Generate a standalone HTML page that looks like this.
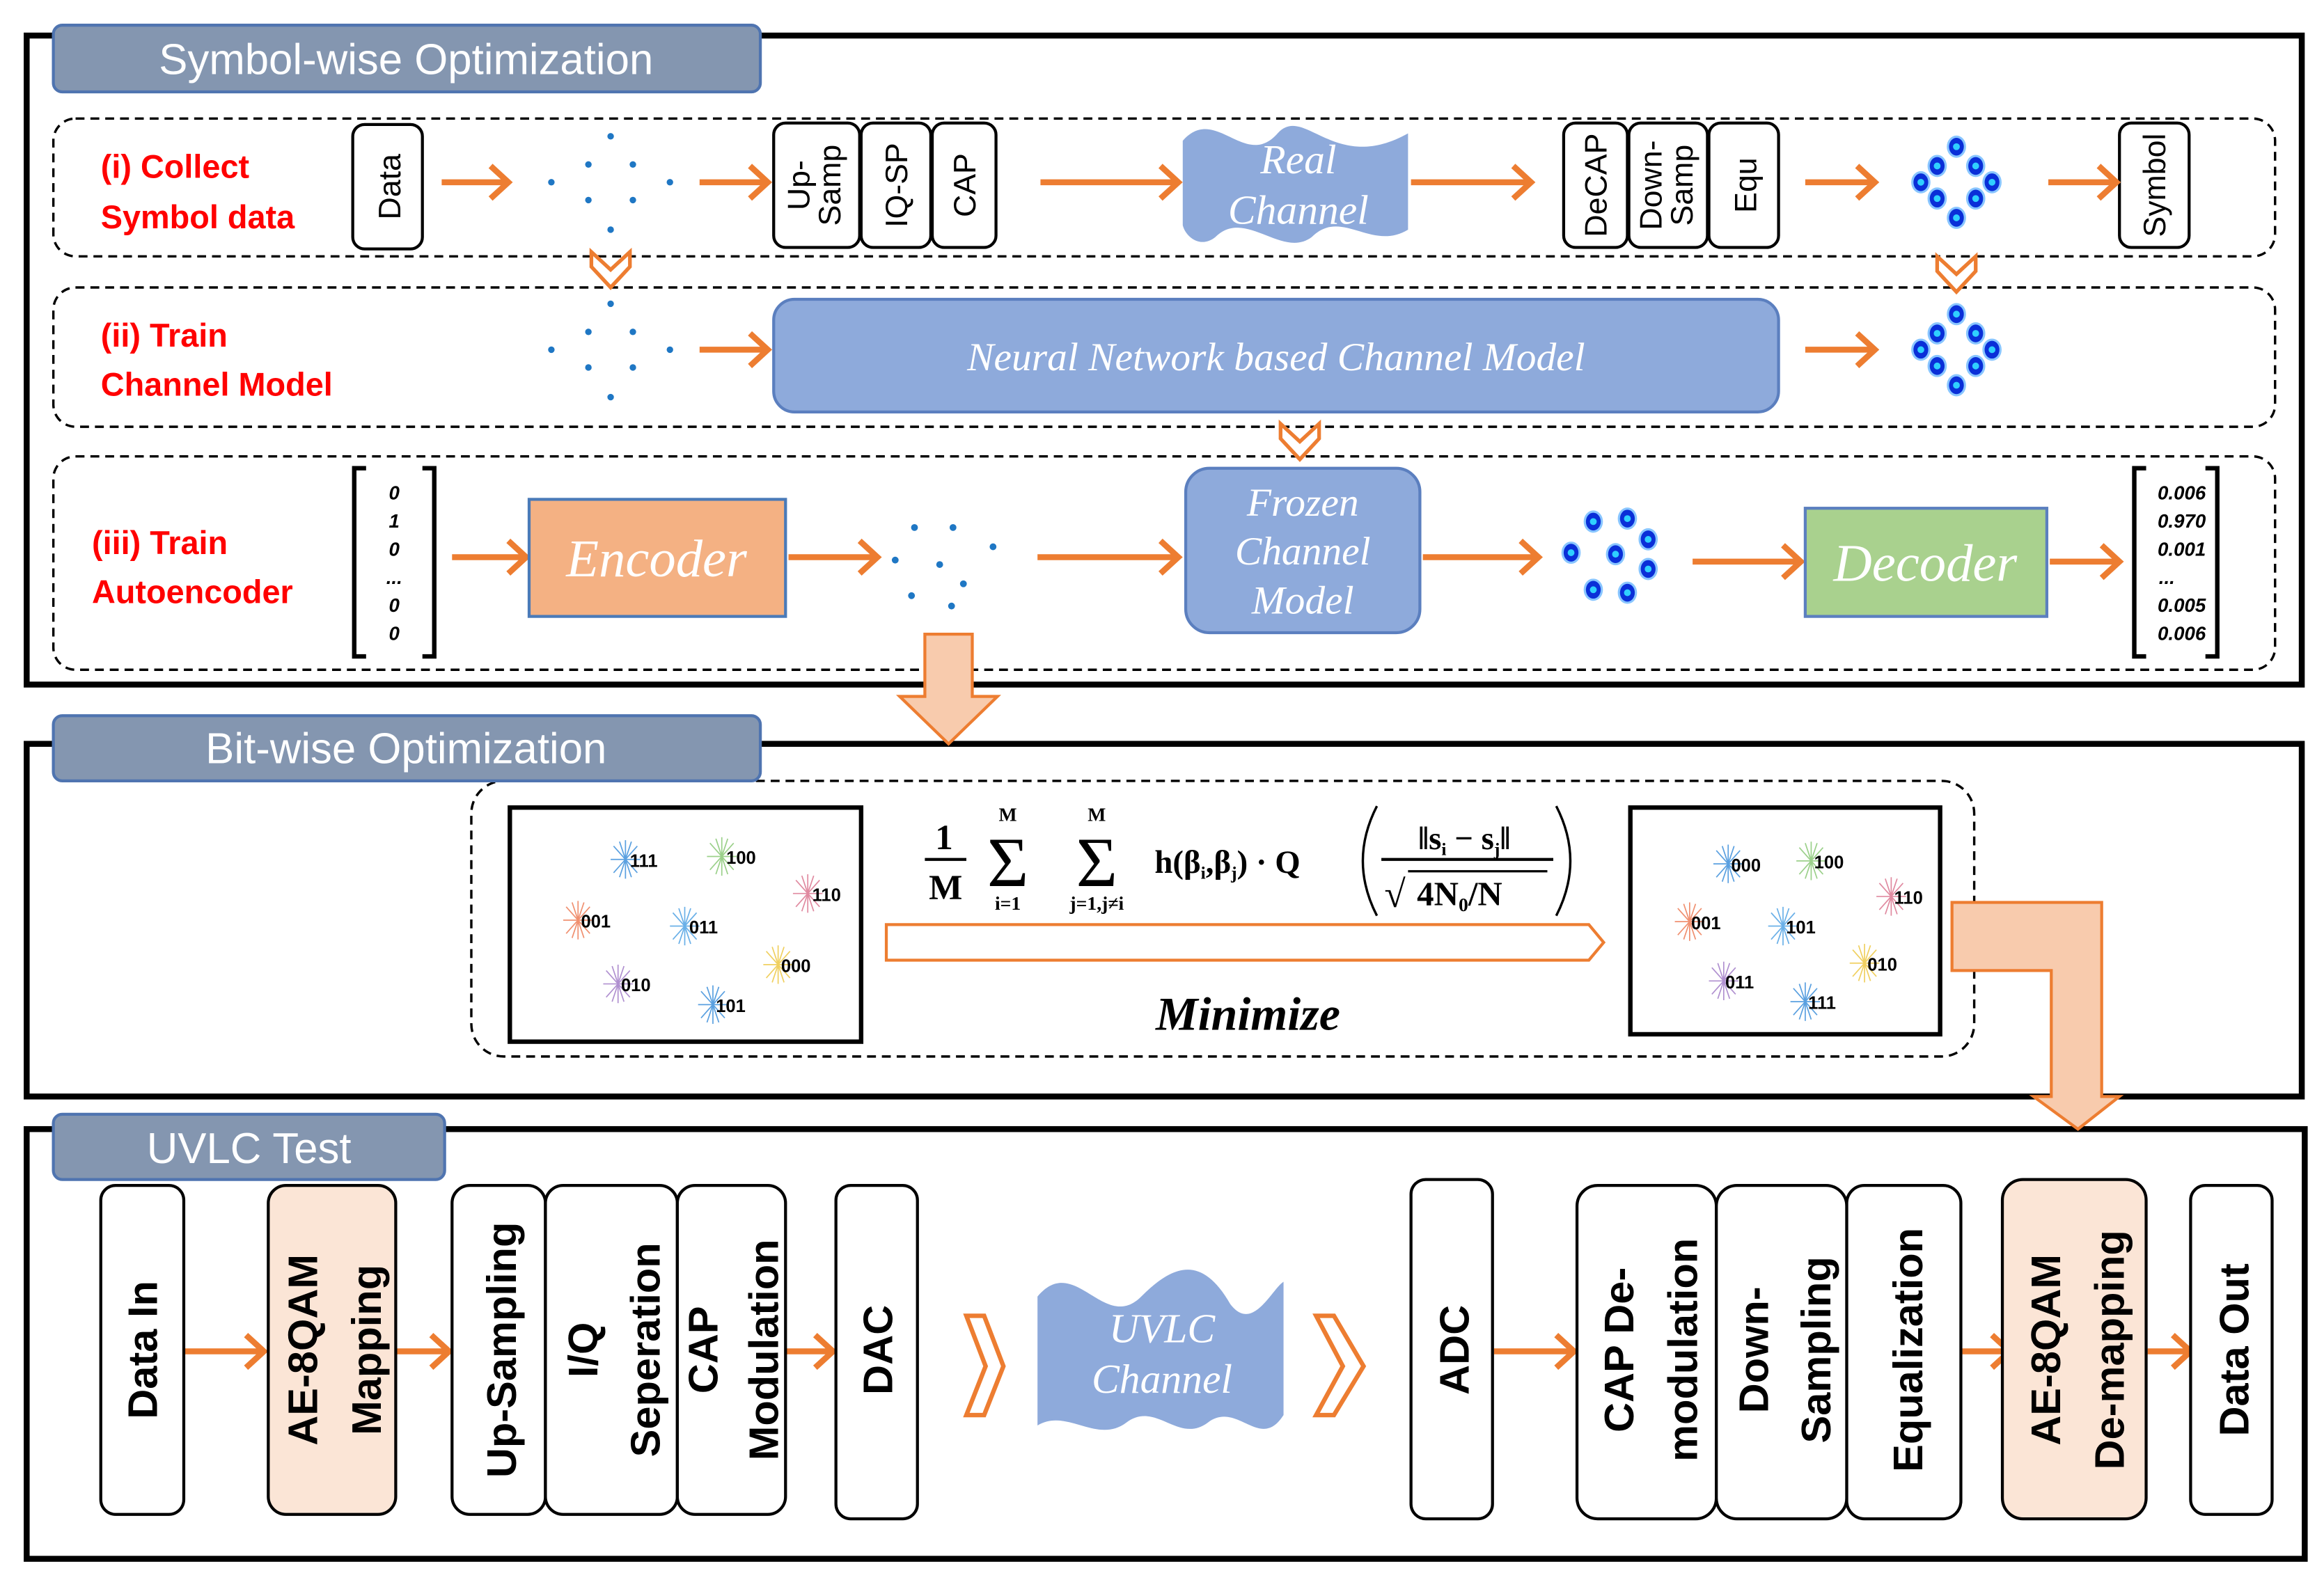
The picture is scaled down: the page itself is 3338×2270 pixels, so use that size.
<!DOCTYPE html>
<html><head><meta charset="utf-8"><style>
html,body{margin:0;padding:0;background:#fff;}
svg{display:block;}
</style></head><body>
<svg width="3338" height="2270" viewBox="0 0 1568 1066.3" preserveAspectRatio="none" xmlns="http://www.w3.org/2000/svg">
<defs>
<g id="star" stroke-width="0.8">
<line x1="-10" y1="0" x2="10" y2="0"/><line x1="0" y1="-13" x2="0" y2="13"/>
<line x1="-8" y1="-9" x2="8" y2="9"/><line x1="-8" y1="9" x2="8" y2="-9"/>
<line x1="-4" y1="-12" x2="4" y2="12"/><line x1="-4" y1="12" x2="4" y2="-12"/>
</g>
<g id="bdot"><ellipse rx="6.5" ry="7.5" fill="#3aa0ff" opacity="0.6"/><ellipse rx="5" ry="6" fill="#0a2fd8"/><circle r="2.3" fill="#2fd0ff"/></g>
<g id="sdot" fill="#1f77c4"><circle cx="0" cy="-31" r="2.2"/><circle cx="-15" cy="-12" r="2.2"/><circle cx="15" cy="-12" r="2.2"/><circle cx="-40" cy="0" r="2.2"/><circle cx="40" cy="0" r="2.2"/><circle cx="-15" cy="12" r="2.2"/><circle cx="15" cy="12" r="2.2"/><circle cx="0" cy="32" r="2.2"/></g>
<g id="qdot"><use href="#bdot" x="0" y="-24"/><use href="#bdot" x="-13" y="-11"/><use href="#bdot" x="13" y="-11"/><use href="#bdot" x="-24" y="0"/><use href="#bdot" x="24" y="0"/><use href="#bdot" x="-13" y="11"/><use href="#bdot" x="13" y="11"/><use href="#bdot" x="0" y="24"/></g>
<polygon id="chev" points="-13,-12 0,0 13,-12 13,-2 0,12 -13,-2" fill="#fff" stroke="#ed7d31" stroke-width="2.5"/>
</defs>

<g fill="none" stroke="#000">
<rect x="18" y="24" width="1535" height="438" stroke-width="4"/>
<rect x="18" y="502" width="1535" height="238" stroke-width="4"/>
<rect x="18" y="762" width="1537" height="290" stroke-width="4"/>
</g>
<g fill="none" stroke="#000" stroke-width="1.6" stroke-dasharray="6,4">
<rect x="36" y="80" width="1499" height="93" rx="15"/>
<rect x="36" y="194" width="1499" height="94" rx="15"/>
<rect x="36" y="308" width="1499" height="144" rx="15"/>
<rect x="318" y="527" width="1014" height="186" rx="22"/>
</g>

<g fill="#8496b0" stroke="#4f74b0" stroke-width="2">
<rect x="36" y="17" width="477" height="45" rx="6"/>
<rect x="36" y="483" width="477" height="44" rx="6"/>
<rect x="36" y="752" width="264" height="44" rx="6"/>
</g>
<g fill="#fff" font-family="Liberation Sans, sans-serif" font-size="29" text-anchor="middle">
<text x="274" y="50">Symbol-wise Optimization</text>
<text x="274" y="515">Bit-wise Optimization</text>
<text x="168" y="785">UVLC Test</text>
</g>

<g fill="#ff0000" font-family="Liberation Sans, sans-serif" font-weight="bold" font-size="22">
<text x="68" y="120">(i) Collect</text><text x="68" y="154">Symbol data</text>
<text x="68" y="234">(ii) Train</text><text x="68" y="267">Channel Model</text>
<text x="62" y="374">(iii) Train</text><text x="62" y="407">Autoencoder</text>
</g>

<g fill="#fff" stroke="#000" stroke-width="2">
<rect x="238" y="84" width="47" height="84" rx="8"/>
<rect x="522" y="83" width="58" height="84" rx="8"/>
<rect x="581" y="83" width="47" height="84" rx="8"/>
<rect x="629" y="83" width="43" height="84" rx="8"/>
<rect x="1055" y="83" width="43" height="84" rx="8"/>
<rect x="1099" y="83" width="53" height="84" rx="8"/>
<rect x="1153" y="83" width="47" height="84" rx="8"/>
<rect x="1430" y="83" width="47" height="84" rx="8"/>
</g>
<g fill="#000" font-family="Liberation Sans, sans-serif" font-size="21" text-anchor="middle">
<text transform="translate(270,126) rotate(-90)">Data</text>
<text transform="translate(546,125) rotate(-90)">Up-</text>
<text transform="translate(567,125) rotate(-90)">Samp</text>
<text transform="translate(612,125) rotate(-90)">IQ-SP</text>
<text transform="translate(658,125) rotate(-90)">CAP</text>
<text transform="translate(1084,125) rotate(-90)">DeCAP</text>
<text transform="translate(1121,125) rotate(-90)">Down-</text>
<text transform="translate(1142,125) rotate(-90)">Samp</text>
<text transform="translate(1185,125) rotate(-90)">Equ</text>
<text transform="translate(1461,125) rotate(-90)">Symbol</text>
</g>

<g stroke="#ed7d31" stroke-width="4" fill="none">
<path d="M298 123H343M331 112L343 123L331 134"/>
<path d="M472 123H518M506 112L518 123L506 134"/>
<path d="M702 123H795M783 112L795 123L783 134"/>
<path d="M952 123H1033M1021 112L1033 123L1021 134"/>
<path d="M1218 123H1265M1253 112L1265 123L1253 134"/>
<path d="M1382 123H1428M1416 112L1428 123L1416 134"/>
<path d="M472 236H518M506 225L518 236L506 247"/>
<path d="M1218 236H1265M1253 225L1265 236L1253 247"/>
<path d="M305 376H355M343 365L355 376L343 387"/>
<path d="M532 376H592M580 365L592 376L580 387"/>
<path d="M700 376H795M783 365L795 376L783 387"/>
<path d="M960 376H1038M1026 365L1038 376L1026 387"/>
<path d="M1142 379H1215M1203 368L1215 379L1203 390"/>
<path d="M1383 379H1430M1418 368L1430 379L1418 390"/>
<path d="M124 912H178M166 901L178 912L166 923"/>
<path d="M268 912H303M291 901L303 912L291 923"/>
<path d="M530 912H562M550 901L562 912L550 923"/>
<path d="M1008 912H1062M1050 901L1062 912L1050 923"/>
<path d="M1324 912H1356M1344 901L1356 912L1344 923"/>
<path d="M1449 912H1478M1466 901L1478 912L1466 923"/>
</g>

<use href="#sdot" x="412" y="123"/>
<use href="#sdot" x="412" y="236"/>
<use href="#qdot" x="1320" y="123"/>
<use href="#qdot" x="1320" y="236"/>
<use href="#chev" x="412" y="182"/>
<use href="#chev" x="1320" y="185"/>
<use href="#chev" x="877" y="298"/>

<path d="M798 95 C820 70 840 115 862 90 C880 70 900 118 950 90 L950 155 C925 170 905 140 885 160 C865 175 840 140 820 160 C810 168 800 160 798 152 Z" fill="#8eaadb"/>
<g fill="#fff" font-family="Liberation Serif, serif" font-style="italic" font-size="28" text-anchor="middle">
<text x="876" y="117">Real</text><text x="876" y="151">Channel</text>
</g>

<rect x="522" y="202" width="678" height="76" rx="14" fill="#8eaadb" stroke="#5b7fbf" stroke-width="2"/>
<text x="861" y="250" fill="#fff" font-family="Liberation Serif, serif" font-style="italic" font-size="27" text-anchor="middle">Neural Network based Channel Model</text>

<g fill="none" stroke="#000" stroke-width="3">
<path d="M247 316H239V443H247M285 316H293V443H285"/>
<path d="M1448 316H1440V443H1448M1488 316H1496V443H1488"/>
</g>
<g font-family="Liberation Sans, sans-serif" font-style="italic" font-weight="bold" font-size="13" text-anchor="middle" fill="#000">
<text x="266" y="337">0</text><text x="266" y="356">1</text><text x="266" y="375">0</text><text x="266" y="394">...</text><text x="266" y="413">0</text><text x="266" y="432">0</text>
<text x="1472" y="337">0.006</text><text x="1472" y="356">0.970</text><text x="1472" y="375">0.001</text><text x="1462" y="394">...</text><text x="1472" y="413">0.005</text><text x="1472" y="432">0.006</text>
</g>
<rect x="357" y="337" width="173" height="79" fill="#f4b183" stroke="#4a7ab8" stroke-width="2"/>
<text x="443" y="389" fill="#fff" font-family="Liberation Serif, serif" font-style="italic" font-size="36" text-anchor="middle">Encoder</text>
<g fill="#1f77c4"><circle cx="617" cy="356" r="2.3"/><circle cx="643" cy="356" r="2.3"/><circle cx="670" cy="369" r="2.3"/><circle cx="604" cy="378" r="2.3"/><circle cx="634" cy="381" r="2.3"/><circle cx="650" cy="394" r="2.3"/><circle cx="615" cy="402" r="2.3"/><circle cx="642" cy="409" r="2.3"/></g>
<rect x="800" y="316" width="158" height="111" rx="16" fill="#8eaadb" stroke="#5b7fbf" stroke-width="2"/>
<g fill="#fff" font-family="Liberation Serif, serif" font-style="italic" font-size="27" text-anchor="middle">
<text x="879" y="348">Frozen</text><text x="879" y="381">Channel</text><text x="879" y="414">Model</text>
</g>
<g><use href="#bdot" x="1075" y="352"/><use href="#bdot" x="1098" y="350"/><use href="#bdot" x="1112" y="364"/><use href="#bdot" x="1060" y="373"/><use href="#bdot" x="1090" y="374"/><use href="#bdot" x="1112" y="384"/><use href="#bdot" x="1075" y="398"/><use href="#bdot" x="1098" y="400"/></g>
<rect x="1218" y="343" width="163" height="73" fill="#a9d18e" stroke="#5b7fbf" stroke-width="2"/>
<text x="1299" y="392" fill="#fff" font-family="Liberation Serif, serif" font-style="italic" font-size="36" text-anchor="middle">Decoder</text>

<polygon points="624,428 656,428 656,470 673,470 640,502 607,470 624,470" fill="#f8cbad" stroke="#ed7d31" stroke-width="2"/>

<rect x="344" y="545" width="237" height="158" fill="#fff" stroke="#000" stroke-width="3"/>
<rect x="1100" y="545" width="209" height="153" fill="#fff" stroke="#000" stroke-width="3"/>
<g>
<use href="#star" x="422" y="580" stroke="#5aa0e0"/><use href="#star" x="487" y="578" stroke="#9bd08a"/>
<use href="#star" x="545" y="603" stroke="#e08aa0"/><use href="#star" x="390" y="621" stroke="#f09070"/>
<use href="#star" x="462" y="625" stroke="#6ab0e8"/><use href="#star" x="525" y="651" stroke="#f0d060"/>
<use href="#star" x="417" y="664" stroke="#b090d0"/><use href="#star" x="481" y="678" stroke="#5aa0e0"/>
<use href="#star" x="1166" y="583" stroke="#5aa0e0"/><use href="#star" x="1222" y="581" stroke="#9bd08a"/>
<use href="#star" x="1276" y="605" stroke="#e08aa0"/><use href="#star" x="1140" y="622" stroke="#f09070"/>
<use href="#star" x="1203" y="625" stroke="#6ab0e8"/><use href="#star" x="1258" y="650" stroke="#f0d060"/>
<use href="#star" x="1163" y="662" stroke="#b090d0"/><use href="#star" x="1218" y="676" stroke="#5aa0e0"/>
</g>
<g font-family="Liberation Sans, sans-serif" font-weight="bold" font-size="12" fill="#000">
<text x="425" y="585">111</text><text x="490" y="583">100</text><text x="548" y="608">110</text><text x="392" y="626">001</text>
<text x="465" y="630">011</text><text x="527" y="656">000</text><text x="419" y="669">010</text><text x="483" y="683">101</text>
<text x="1168" y="588">000</text><text x="1224" y="586">100</text><text x="1278" y="610">110</text><text x="1141" y="627">001</text>
<text x="1205" y="630">101</text><text x="1260" y="655">010</text><text x="1164" y="667">011</text><text x="1220" y="681">111</text>
</g>
<!-- formula -->
<g font-family="Liberation Serif, serif" font-weight="bold" fill="#000">
<text x="637" y="573" font-size="24" text-anchor="middle">1</text>
<line x1="624" y1="580" x2="652" y2="580" stroke="#000" stroke-width="2"/>
<text x="638" y="607" font-size="24" text-anchor="middle">M</text>
<text x="680" y="554" font-size="13" text-anchor="middle">M</text>
<text x="680" y="598" font-size="48" text-anchor="middle" font-weight="normal">Σ</text>
<text x="680" y="614" font-size="13" text-anchor="middle">i=1</text>
<text x="740" y="554" font-size="13" text-anchor="middle">M</text>
<text x="740" y="598" font-size="48" text-anchor="middle" font-weight="normal">Σ</text>
<text x="740" y="614" font-size="13" text-anchor="middle">j=1,j≠i</text>
<text x="779" y="589" font-size="22">h(β<tspan font-size="12" dy="4">i</tspan><tspan dy="-4">,β</tspan><tspan font-size="12" dy="4">j</tspan><tspan dy="-4">) · Q</tspan></text>
<text x="988" y="573" font-size="22" text-anchor="middle">‖s<tspan font-size="12" dy="4">i</tspan><tspan dy="-4"> − s</tspan><tspan font-size="12" dy="4">j</tspan><tspan dy="-4">‖</tspan></text>
<line x1="932" y1="580" x2="1048" y2="580" stroke="#000" stroke-width="2"/>
<text x="934" y="612" font-size="26" font-weight="normal">√</text>
<line x1="950" y1="588" x2="1044" y2="588" stroke="#000" stroke-width="1.5"/>
<text x="956" y="611" font-size="23">4N<tspan font-size="13" dy="4">0</tspan><tspan dy="-4">/N</tspan></text>
</g>
<path d="M929 544 Q910 581 929 618" fill="none" stroke="#000" stroke-width="1.6"/>
<path d="M1050 544 Q1069 581 1050 618" fill="none" stroke="#000" stroke-width="1.6"/>
<polygon points="598,624 1072,624 1082,636 1072,648 598,648" fill="#fff" stroke="#ed7d31" stroke-width="2"/>
<text x="842" y="695" font-family="Liberation Serif, serif" font-style="italic" font-weight="bold" font-size="32" text-anchor="middle">Minimize</text>

<polygon points="1317,609 1418,609 1418,740 1430,740 1402,762 1372,740 1384,740 1384,655 1317,655" fill="#f8cbad" stroke="#ed7d31" stroke-width="2"/>

<g stroke="#000" stroke-width="2">
<rect x="68" y="800" width="56" height="222" rx="10" fill="#fff"/>
<rect x="181" y="800" width="86" height="222" rx="12" fill="#fbe5d6"/>
<rect x="305" y="800" width="63" height="222" rx="12" fill="#fff"/>
<rect x="368" y="800" width="89" height="222" rx="12" fill="#fff"/>
<rect x="457" y="800" width="73" height="222" rx="12" fill="#fff"/>
<rect x="564" y="800" width="55" height="225" rx="10" fill="#fff"/>
<rect x="952" y="796" width="55" height="229" rx="10" fill="#fff"/>
<rect x="1064" y="800" width="94" height="225" rx="14" fill="#fff"/>
<rect x="1158" y="800" width="88" height="225" rx="14" fill="#fff"/>
<rect x="1246" y="800" width="77" height="225" rx="12" fill="#fff"/>
<rect x="1351" y="796" width="97" height="229" rx="14" fill="#fbe5d6"/>
<rect x="1478" y="800" width="55" height="222" rx="10" fill="#fff"/>
</g>
<g fill="#000" font-family="Liberation Sans, sans-serif" font-weight="bold" font-size="28" text-anchor="middle">
<text transform="translate(106,911) rotate(-90)">Data In</text>
<text transform="translate(214,911) rotate(-90)">AE-8QAM</text>
<text transform="translate(257,911) rotate(-90)">Mapping</text>
<text transform="translate(348,911) rotate(-90)">Up-Sampling</text>
<text transform="translate(403,911) rotate(-90)">I/Q</text>
<text transform="translate(445,911) rotate(-90)">Seperation</text>
<text transform="translate(484,911) rotate(-90)">CAP</text>
<text transform="translate(525,911) rotate(-90)">Modulation</text>
<text transform="translate(602,911) rotate(-90)">DAC</text>
<text transform="translate(991,911) rotate(-90)">ADC</text>
<text transform="translate(1102,911) rotate(-90)">CAP De-</text>
<text transform="translate(1145,911) rotate(-90)">modulation</text>
<text transform="translate(1193,911) rotate(-90)">Down-</text>
<text transform="translate(1235,911) rotate(-90)">Sampling</text>
<text transform="translate(1297,911) rotate(-90)">Equalization</text>
<text transform="translate(1390,911) rotate(-90)">AE-8QAM</text>
<text transform="translate(1433,911) rotate(-90)">De-mapping</text>
<text transform="translate(1517,911) rotate(-90)">Data Out</text>
</g>
<g fill="#fff" stroke="#ed7d31" stroke-width="3">
<polygon points="652,888 664,888 677,922 664,955 652,955 665,922"/>
<polygon points="888,888 900,888 920,922 900,955 888,955 906,922"/>
</g>
<path d="M700 875 C725 845 745 900 770 875 C790 855 810 845 830 880 C845 900 858 870 866 865 L866 955 C850 980 835 945 815 960 C795 975 780 945 760 960 C740 975 720 950 700 962 Z" fill="#8eaadb"/>
<g fill="#fff" font-family="Liberation Serif, serif" font-style="italic" font-size="28" text-anchor="middle">
<text x="784" y="906">UVLC</text><text x="784" y="940">Channel</text>
</g>
</svg>
</body></html>
